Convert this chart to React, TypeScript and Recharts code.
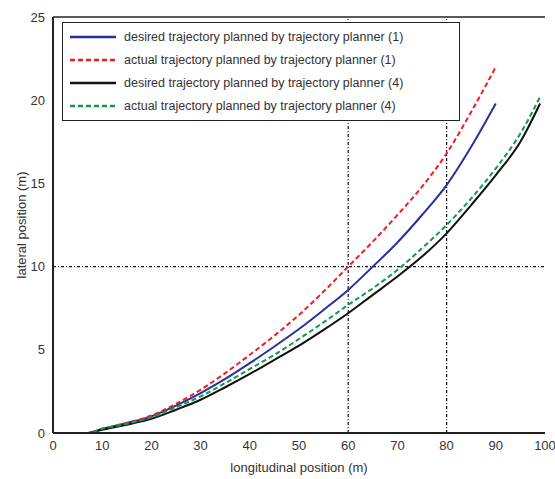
import { Line, LineChart, ReferenceLine, XAxis, YAxis } from "recharts";

const xPositions = [0, 5, 7, 10, 15, 20, 25, 30, 35, 40, 45, 50, 55, 60, 65, 70, 75, 80, 85, 90, 95, 99];

const desired1 = [0, 0, 0, 0.25, 0.6, 1.0, 1.65, 2.4, 3.25, 4.2, 5.2, 6.25, 7.4, 8.6, 10.0, 11.45, 13.1, 14.9, 17.2, 19.8, null, null];
const actual1 = [0, 0, 0, 0.25, 0.6, 1.05, 1.75, 2.6, 3.6, 4.7, 5.85, 7.1, 8.5, 10.0, 11.5, 13.1, 14.8, 16.8, 19.3, 22.0, null, null];
const desired4 = [0, 0, 0, 0.2, 0.5, 0.85, 1.4, 2.0, 2.75, 3.55, 4.4, 5.25, 6.2, 7.2, 8.3, 9.4, 10.6, 12.0, 13.7, 15.5, 17.5, 19.8];
const actual4 = [0, 0, 0, 0.25, 0.55, 0.95, 1.55, 2.2, 3.0, 3.85, 4.7, 5.65, 6.65, 7.7, 8.7, 9.8, 11.1, 12.5, 14.1, 15.9, 18.0, 20.2];

const xTicks = [0, 10, 20, 30, 40, 50, 60, 70, 80, 90, 100];
const yTicks = [0, 5, 10, 15, 20, 25];

const SERIES = [
  { key: "desired1", name: "desired trajectory planned by trajectory planner (1)", color: "#2b2f9e", dash: undefined },
  { key: "actual1", name: "actual trajectory planned by trajectory planner (1)", color: "#ee1c24", dash: "5 3" },
  { key: "desired4", name: "desired trajectory planned by trajectory planner (4)", color: "#111111", dash: undefined },
  { key: "actual4", name: "actual trajectory planned by trajectory planner (4)", color: "#0f9b48", dash: "5 3" },
];

const data = xPositions.map((x, i) => ({
  x,
  desired1: desired1[i],
  actual1: actual1[i],
  desired4: desired4[i],
  actual4: actual4[i],
}));

const FONT = "'Liberation Sans', Arial, sans-serif";

function LegendBox() {
  return (
    <div
      style={{
        position: "absolute",
        left: 62,
        top: 22,
        width: 396,
        border: "1.5px solid #222",
        background: "#fff",
        padding: "2px 0 3px",
        fontFamily: FONT,
        fontSize: 12.5,
        color: "#333",
      }}
    >
      {SERIES.map((s) => (
        <div key={s.key} style={{ display: "flex", alignItems: "center", height: 23 }}>
          <svg width={54} height={10} style={{ marginLeft: 7 }}>
            <line x1={0} y1={5} x2={46} y2={5} stroke={s.color} strokeWidth={2.5} strokeDasharray={s.dash} />
          </svg>
          <span>{s.name}</span>
        </div>
      ))}
    </div>
  );
}

export default function App() {
  return (
    <div style={{ position: "absolute", left: 0, top: 0, width: 555, height: 479, background: "#fff" }}>
      <LineChart width={555} height={479} data={data} margin={{ top: 17, right: 10, left: 0, bottom: 0 }}>
        <XAxis
          dataKey="x"
          type="number"
          domain={[0, 100]}
          ticks={xTicks}
          height={46}
          stroke="#222"
          strokeWidth={2}
          tickLine={false}
          tick={{ fill: "#333", fontSize: 13, fontFamily: FONT }}
          label={{ value: "longitudinal position (m)", position: "insideBottom", offset: 7, style: { fill: "#333", fontSize: 13, fontFamily: FONT } }}
        />
        <YAxis
          type="number"
          domain={[0, 25]}
          ticks={yTicks}
          width={53}
          stroke="#222"
          strokeWidth={2}
          tickLine={false}
          tick={{ fill: "#333", fontSize: 13, fontFamily: FONT }}
          label={{ value: "lateral position (m)", angle: -90, position: "insideLeft", offset: 21, style: { fill: "#333", fontSize: 13, fontFamily: FONT, textAnchor: "middle" } }}
        />
        <ReferenceLine x={60} stroke="#111" strokeWidth={1.2} strokeDasharray="3 2 1 2" />
        <ReferenceLine x={80} stroke="#111" strokeWidth={1.2} strokeDasharray="3 2 1 2" />
        <ReferenceLine y={10} stroke="#111" strokeWidth={1.2} strokeDasharray="3 2 1 2" />
        <ReferenceLine y={25} stroke="#222" strokeWidth={1.5} />
        {SERIES.map((s) => (
          <Line
            key={s.key}
            type="monotone"
            dataKey={s.key}
            name={s.name}
            stroke={s.color}
            strokeWidth={2}
            strokeDasharray={s.dash}
            dot={false}
            connectNulls={false}
            isAnimationActive={false}
          />
        ))}
      </LineChart>
      <LegendBox />
    </div>
  );
}
